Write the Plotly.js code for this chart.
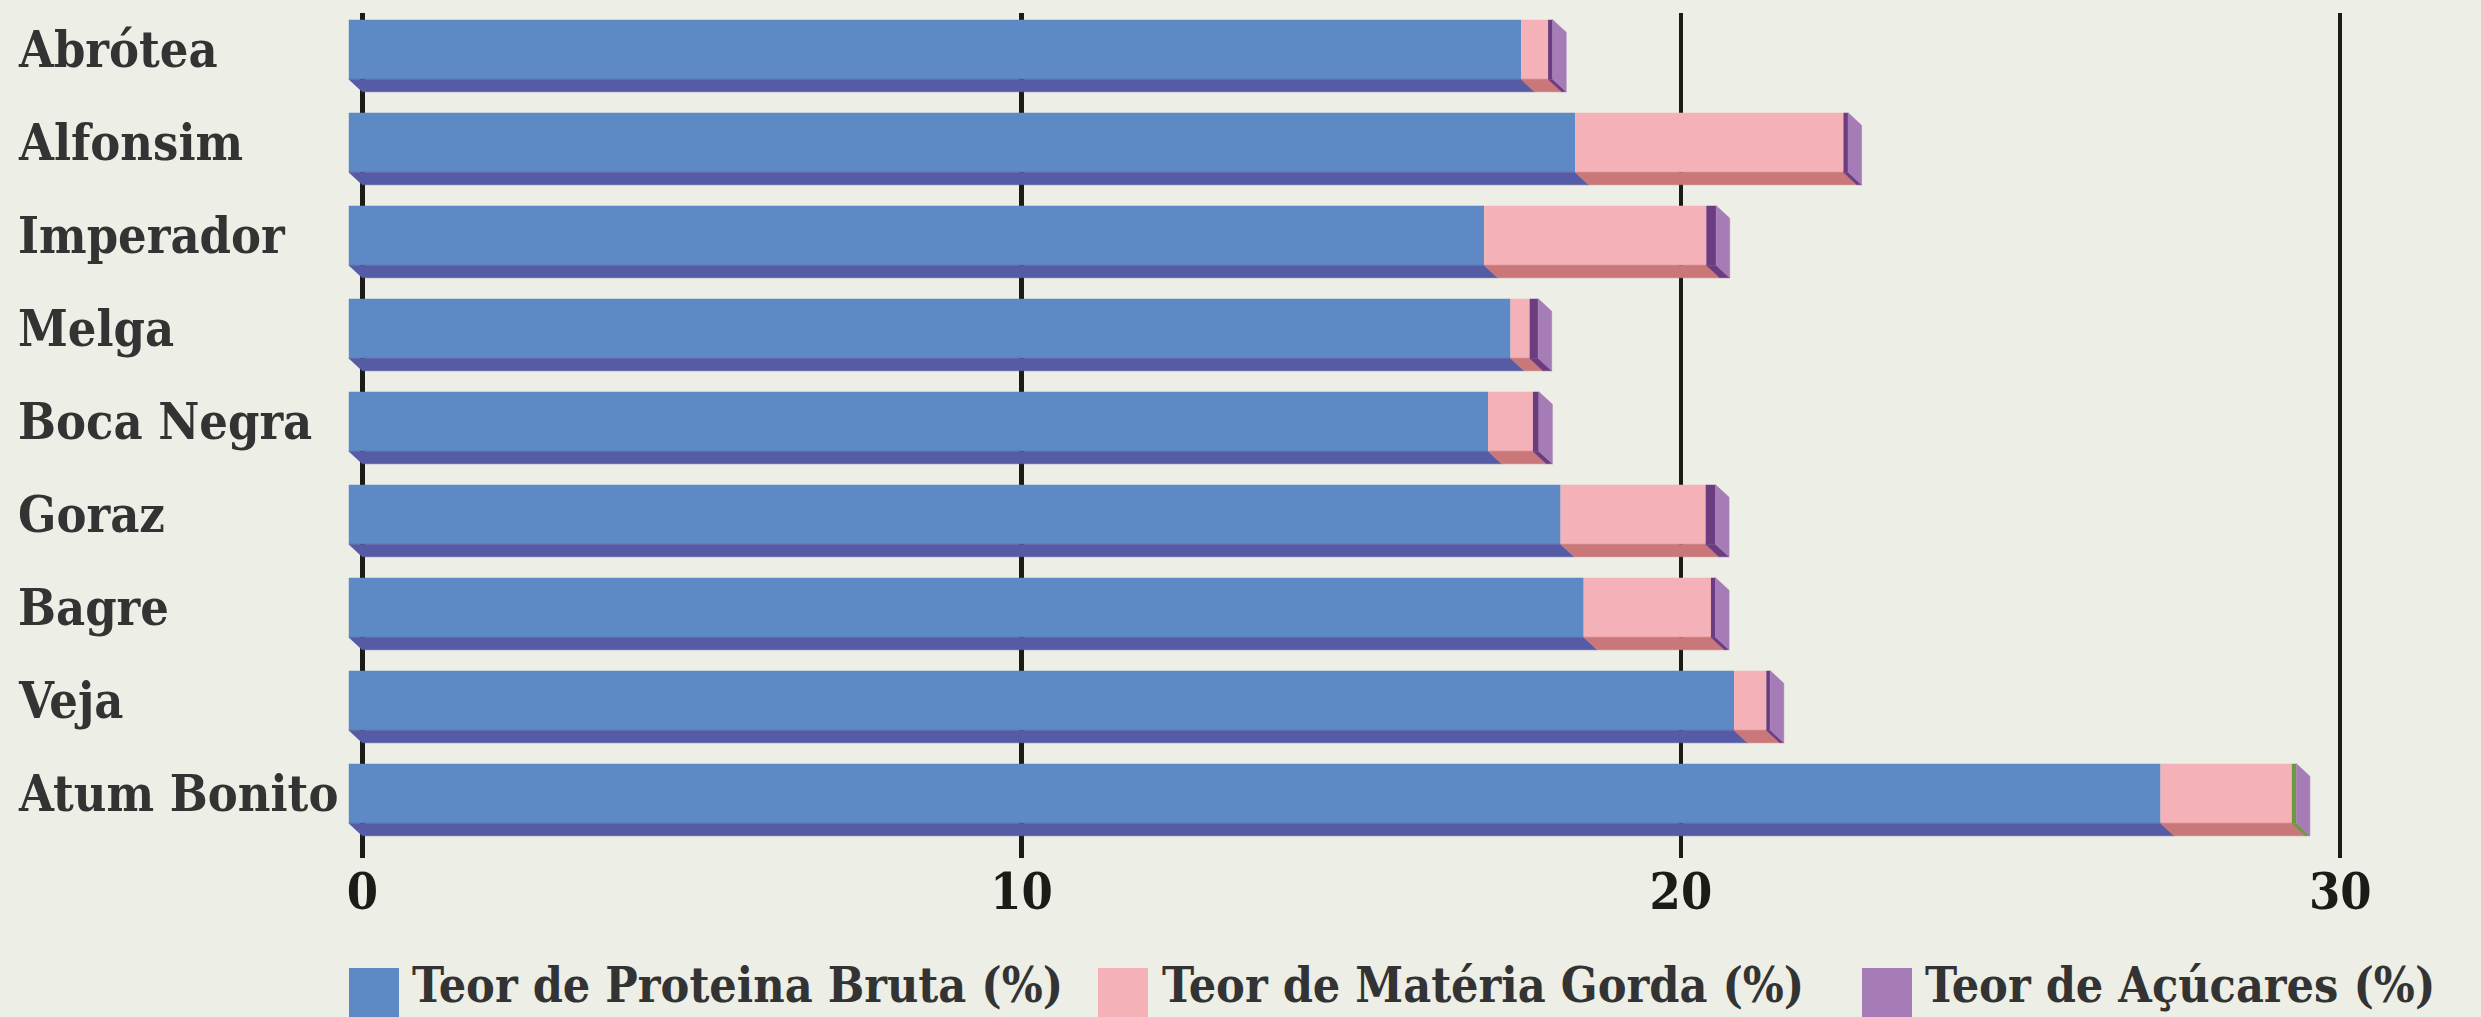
<!DOCTYPE html>
<html>
<head>
<meta charset="utf-8">
<script src="https://cdn.plot.ly/plotly-3.0.1.min.js"></script>
<style>
  html, body { margin: 0; padding: 0; background: #edeee5; }
  #chart { width: 2481px; height: 1017px; }
</style>
</head>
<body>
<div id="chart"></div>
<script>
// ---- data ----
const categories = ['Abrótea', 'Alfonsim', 'Imperador', 'Melga', 'Boca Negra', 'Goraz', 'Bagre', 'Veja', 'Atum Bonito'];
const proteina   = [17.78, 18.60, 17.22, 17.62, 17.28, 18.38, 18.73, 21.01, 27.48];
const gordura    = [0.41, 4.07, 3.37, 0.29, 0.68, 2.20, 1.93, 0.49, 1.99];
const acucares   = [0.07, 0.07, 0.15, 0.13, 0.09, 0.15, 0.07, 0.06, 0.00];
const serie4     = [0, 0, 0, 0, 0, 0, 0, 0, 0.07];
const seriesNames = ['Teor de Proteina Bruta (%)', 'Teor de Matéria Gorda (%)', 'Teor de Açúcares (%)'];
const xTicks = [0, 10, 20, 30];

// ---- layout geometry ----
const W = 2481, H = 1017;
const ML = 300, MR = 40, MT = 13, MB = H - 858;
const plotW = W - ML - MR, plotH = H - MT - MB;
const pxPerUnit = 65.93;                 // x scale
const x0px = 362.3;                      // pixel of value 0
const xRange = [(ML - x0px) / pxPerUnit, (W - MR - x0px) / pxPerUnit];
const rowPx = 93, row0Px = 49.5;         // y scale (category spacing)
const yRange = [(H - MB - row0Px) / rowPx, (MT - row0Px) / rowPx]; // reversed
const dxu = 13.5 / pxPerUnit;            // 3D depth offset (x)
const dyu = 12.5 / rowPx;                // 3D depth offset (y)
const barW = 59.5 / rowPx, hw = barW / 2;

const FONT = "'DejaVu Serif Condensed', 'DejaVu Serif', serif";
const cFront = ['#5d89c5', '#f4b2b8', '#6b3d80', '#6a9a3c'];
const cBottom = ['#555ba5', '#c97778', '#6b3d80', '#6a9a3c'];
const cSide = '#a57cb6';
const cLegend = ['#5d89c5', '#f4b2b8', '#a57cb6'];

const stacks = [proteina, gordura, acucares, serie4];
const idx = categories.map((_, i) => i);
const traces = [];
const bottoms = [];
let cum = categories.map(() => 0);

stacks.forEach((vals, s) => {
  const base = cum.map(c => c - dxu);
  traces.push({
    type: 'bar', orientation: 'h', y: idx, x: vals, base: base, width: barW,
    marker: { color: cFront[s], line: { width: 0 } },
    name: s < 3 ? seriesNames[s] : 'Série 4', showlegend: false, hoverinfo: 'skip'
  });
  // bottom face polygons
  const px = [], py = [];
  vals.forEach((v, i) => {
    if (v <= 0) return;
    const a = cum[i], b = cum[i] + v, yb = i + hw;
    px.push(a - dxu, b - dxu, b, a, a - dxu, null);
    py.push(yb, yb, yb + dyu, yb + dyu, yb, null);
  });
  bottoms.push({
    type: 'scatter', mode: 'lines', x: px, y: py, fill: 'toself',
    fillcolor: cBottom[s], line: { width: 0.6, color: cBottom[s] },
    showlegend: false, hoverinfo: 'skip'
  });
  cum = cum.map((c, i) => c + vals[i]);
});

// right side faces at the stack total
const sx = [], sy = [];
cum.forEach((t, i) => {
  sx.push(t - dxu, t, t, t - dxu, t - dxu, null);
  sy.push(i - hw, i - hw + dyu, i + hw + dyu, i + hw, i - hw, null);
});
const side = {
  type: 'scatter', mode: 'lines', x: sx, y: sy, fill: 'toself',
  fillcolor: cSide, line: { width: 0.6, color: cSide },
  showlegend: false, hoverinfo: 'skip'
};

const pxToPaperX = p => (p - ML) / plotW;
const pxToPaperY = p => (H - MB - p) / plotH;

const annotations = categories.map((c, i) => ({
  text: c, xref: 'paper', yref: 'y', x: pxToPaperX(16), y: i,
  xanchor: 'left', yanchor: 'middle', showarrow: false,
  font: { family: FONT, size: 50, color: '#333333', weight: 'bold' }
}));

const legendPos = [
  { sw: 349, tx: 410 },
  { sw: 1098, tx: 1160 },
  { sw: 1862, tx: 1923 }
];
const shapes = [];
seriesNames.forEach((n, k) => {
  shapes.push({
    type: 'rect', xref: 'paper', yref: 'paper', layer: 'above',
    x0: pxToPaperX(legendPos[k].sw), x1: pxToPaperX(legendPos[k].sw + 50),
    y0: pxToPaperY(968), y1: pxToPaperY(1030),
    fillcolor: cLegend[k], line: { width: 0 }
  });
  annotations.push({
    text: n, xref: 'paper', yref: 'paper', x: pxToPaperX(legendPos[k].tx), y: pxToPaperY(985),
    xanchor: 'left', yanchor: 'middle', showarrow: false,
    font: { family: FONT, size: 48, color: '#333333', weight: 'bold' }
  });
});

const layout = {
  width: W, height: H,
  margin: { l: ML, r: MR, t: MT, b: MB, pad: 0 },
  paper_bgcolor: '#edeee5', plot_bgcolor: '#edeee5',
  barmode: 'overlay', showlegend: false,
  xaxis: {
    range: xRange, tickmode: 'array', tickvals: xTicks, ticktext: xTicks.map(String),
    showgrid: true, gridcolor: '#1b1b18', gridwidth: 4.5,
    zeroline: false, showline: false, ticks: '',
    tickfont: { family: FONT, size: 50, color: '#1b1b18', weight: 'bold' },
    fixedrange: true
  },
  yaxis: {
    range: yRange, showgrid: false, zeroline: false, showline: false,
    showticklabels: false, ticks: '', fixedrange: true
  },
  shapes: shapes,
  annotations: annotations
};

Plotly.newPlot('chart', traces.concat(bottoms, [side]), layout, { staticPlot: true });
</script>
</body>
</html>
